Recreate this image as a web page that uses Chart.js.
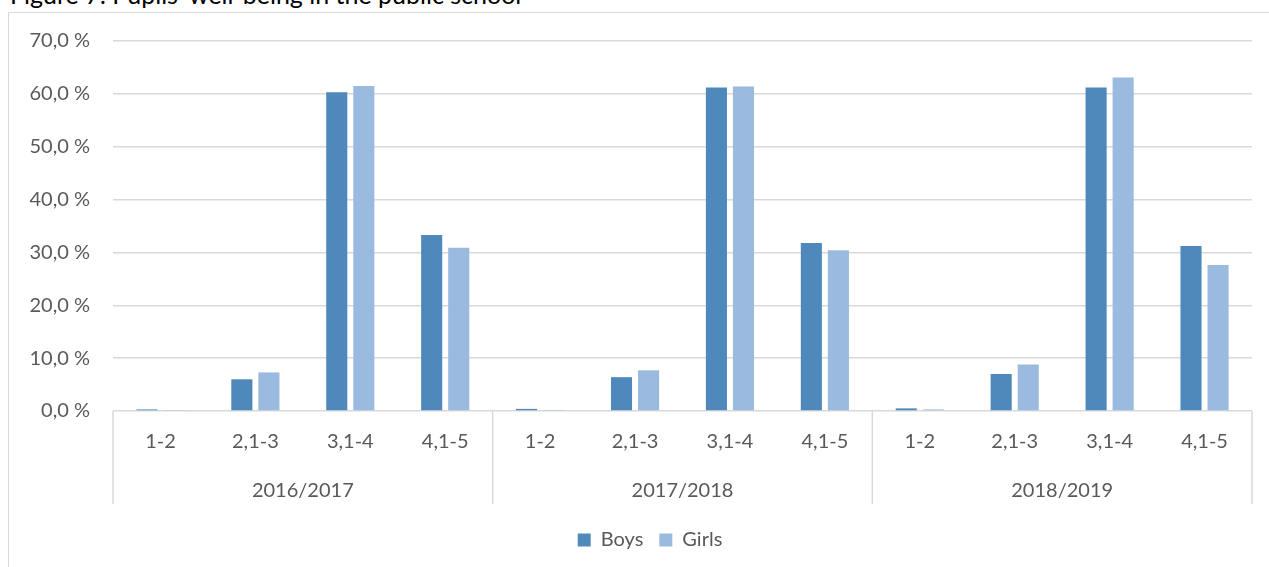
<!DOCTYPE html>
<html>
<head>
<meta charset="utf-8">
<script src="https://cdn.jsdelivr.net/npm/chart.js@4/dist/chart.umd.min.js"></script>
<style>
  html, body { margin: 0; padding: 0; background: #fff; overflow: hidden; }
  body { width: 1269px; height: 567px; position: relative; }
  #title {
    position: absolute; left: 10px; top: -18px;
    font: 25px Lato, "Open Sans", sans-serif; line-height: 1;
    color: #000; white-space: nowrap;
  }
  #frame {
    position: absolute; left: 8px; top: 12px;
    width: 1282px; height: 600px;
    border: 1px solid #d9d9d9;
  }
  #chart { position: absolute; left: 0; top: 0; }
</style>
</head>
<body>
<div id="title">Figure 7: Pupils' well-being in the public school</div>
<div id="frame"><canvas id="chart" width="1282" height="553"></canvas></div>
<script>
// Score bands and school years
const bands = ['1-2', '2,1-3', '3,1-4', '4,1-5'];
const years = ['2016/2017', '2017/2018', '2018/2019'];

// Share of pupils (%) per score band, by year
const boys2016 = [0.3, 6.0, 60.3, 33.3];
const girls2016 = [0.1, 7.3, 61.5, 30.9];
const boys2017 = [0.4, 6.4, 61.2, 31.8];
const girls2017 = [0.2, 7.7, 61.4, 30.4];
const boys2018 = [0.5, 7.0, 61.2, 31.2];
const girls2018 = [0.3, 8.8, 63.1, 27.6];

const boys = [...boys2016, ...boys2017, ...boys2018];
const girls = [...girls2016, ...girls2017, ...girls2018];
const categories = years.flatMap(() => bands);

const GRID = '#d9d9d9';
const TEXT = '#595959';
const FONT = { family: 'Lato, "Open Sans", sans-serif', size: 20 };

// Fixed axis sizes so the plot area sits where it should
const fixSize = (w, h) => s => {
  if (w !== null) s.width = w;
  if (h !== null) s.height = h;
  s.paddingTop = 0;
  s.paddingBottom = 0;
};

// Vertical separators between the year groups, from the baseline down
const groupDividers = {
  id: 'groupDividers',
  afterDraw(chart) {
    const x = chart.scales.x;
    const x2 = chart.scales.x2;
    const n = bands.length;
    const xs = [x.left];
    for (let g = 1; g < years.length; g++) {
      xs.push((x.getPixelForValue(g * n - 1) + x.getPixelForValue(g * n)) / 2);
    }
    xs.push(x.right);
    const ctx = chart.ctx;
    ctx.save();
    ctx.strokeStyle = GRID;
    ctx.lineWidth = 1.5;
    ctx.beginPath();
    xs.forEach(px => {
      ctx.moveTo(px, chart.chartArea.bottom);
      ctx.lineTo(px, x2.bottom - 10);
    });
    ctx.stroke();
    ctx.restore();
  }
};

new Chart(document.getElementById('chart'), {
  type: 'bar',
  data: {
    labels: categories,
    datasets: [
      { label: 'Boys', data: boys, backgroundColor: '#4f89bb' },
      { label: 'Girls', data: girls, backgroundColor: '#9abae0' }
    ]
  },
  options: {
    responsive: false,
    maintainAspectRatio: false,
    animation: false,
    layout: { padding: { top: 28, right: 0, left: 0, bottom: 6 } },
    datasets: { bar: { categoryPercentage: 0.57, barPercentage: 0.78 } },
    scales: {
      y: {
        min: 0, max: 70,
        ticks: {
          stepSize: 10, padding: 23, color: TEXT, font: FONT,
          callback: v => v.toFixed(1).replace('.', ',') + ' %'
        },
        grid: { color: GRID, lineWidth: 1.5, drawTicks: false },
        border: { display: false },
        afterFit: fixSize(104, null)
      },
      // empty margin on the right of the plot
      yRight: {
        position: 'right',
        min: 0, max: 70,
        ticks: { display: false },
        grid: { display: false, drawTicks: false },
        border: { display: false },
        afterFit: fixSize(39, null)
      },
      x: {
        ticks: { padding: 19, color: TEXT, font: FONT, maxRotation: 0, autoSkip: false },
        grid: { display: false, drawTicks: false },
        border: { display: false },
        afterFit: fixSize(null, 44)
      },
      x2: {
        type: 'category',
        position: 'bottom',
        labels: years,
        offset: true,
        ticks: { padding: 24, color: TEXT, font: FONT, maxRotation: 0 },
        grid: { display: false, drawTicks: false },
        border: { display: false },
        afterFit: fixSize(null, 59)
      }
    },
    plugins: {
      legend: {
        position: 'bottom',
        labels: {
          boxWidth: 13, boxHeight: 13, padding: 16,
          color: TEXT, font: FONT
        }
      },
      tooltip: { enabled: false }
    }
  },
  plugins: [groupDividers]
});
</script>
</body>
</html>
